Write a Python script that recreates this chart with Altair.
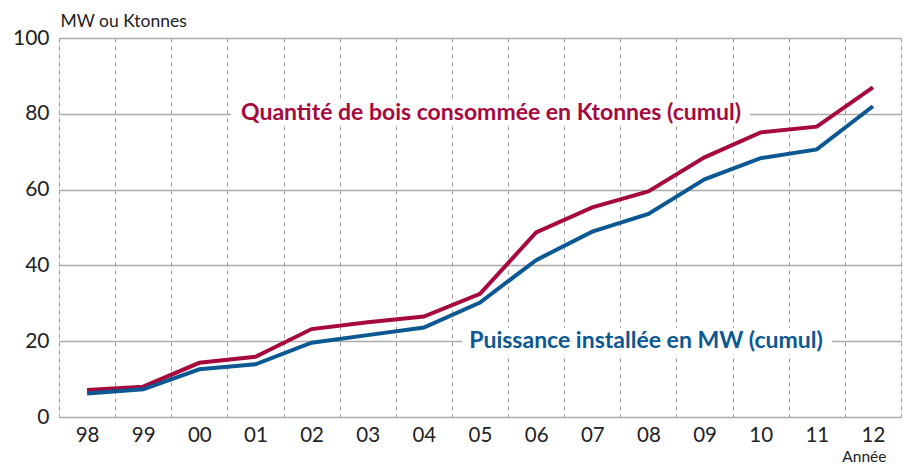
import altair as alt
import pandas as pd

years = ["98", "99", "00", "01", "02", "03", "04", "05", "06", "07", "08", "09", "10", "11", "12"]
wood = [7.1, 8.0, 14.3, 15.9, 23.2, 25.0, 26.5, 32.5, 48.7, 55.3, 59.5, 68.5, 75.1, 76.6, 87.0]
power = [6.2, 7.3, 12.6, 13.9, 19.6, 21.6, 23.6, 30.2, 41.4, 48.9, 53.6, 62.7, 68.3, 70.6, 82.0]
series_names = ["Quantité de bois consommée en Ktonnes (cumul)", "Puissance installée en MW (cumul)"]
series_colors = ["#A6093D", "#0B5892"]

FONT = "Lato"
W, H = 842, 379

df = pd.DataFrame({
    "year": years * 2,
    "value": wood + power,
    "series": [series_names[0]] * len(years) + [series_names[1]] * len(years),
})

x_enc = alt.X(
    "year:O",
    sort=years,
    scale=alt.Scale(type="band", paddingInner=0, paddingOuter=0),
    axis=alt.Axis(
        title="Année", titleFont=FONT, titleFontSize=15.5, titleFontWeight="normal", titleColor="#222",
        titleAnchor="end", titleAlign="right", titleX=W - 15, titleY=39, titleBaseline="middle",
        labelAngle=0, labelFont=FONT, labelFontSize=20.5, labelColor="#222", labelPadding=8,
        ticks=False, domain=False, grid=True, tickBand="extent",
        gridDash=[4, 4], gridColor="#9a9a9a", gridWidth=1,
    ),
)
y_enc = alt.Y(
    "value:Q",
    scale=alt.Scale(domain=[0, 100], nice=False),
    axis=alt.Axis(
        values=[0, 20, 40, 60, 80, 100],
        title="MW ou Ktonnes", titleFont=FONT, titleFontSize=17.5, titleFontWeight="normal", titleColor="#222",
        titleAngle=0, titleAlign="left", titleBaseline="middle", titleX=1, titleY=-17,
        labelFont=FONT, labelFontSize=21, labelColor="#222", labelPadding=10,
        ticks=False, domain=False, grid=True, gridColor="#aaaaaa", gridWidth=1.5,
    ),
)

lines = alt.Chart(df).mark_line(strokeWidth=4, strokeCap="butt", strokeJoin="miter").encode(
    x=x_enc,
    y=y_enc,
    color=alt.Color("series:N", scale=alt.Scale(domain=series_names, range=series_colors), legend=None),
)

lab = pd.DataFrame({
    "txt": series_names,
    "color": series_colors,
    "x": [432, 587],
    "y": [75, 303],
    "x1": [172, 403],
    "x2": [691, 773],
})

boxes = alt.Chart(lab).transform_calculate(y1="datum.y - 13", y2="datum.y + 13").mark_rect(color="white").encode(
    x=alt.X("x1:Q", scale=None),
    x2="x2:Q",
    y=alt.Y("y1:Q", scale=None),
    y2="y2:Q",
)

texts = alt.Chart(lab).mark_text(font=FONT, fontSize=23, fontWeight="bold", baseline="middle", align="center").encode(
    x=alt.X("x:Q", scale=None),
    y=alt.Y("y:Q", scale=None),
    text="txt:N",
    color=alt.Color("color:N", scale=None),
)

base = alt.Chart(df).mark_line(opacity=0).encode(x=x_enc, y=y_enc)

chart = alt.layer(base, boxes, texts, lines).properties(
    width=W, height=H,
    autosize=alt.AutoSizeParams(type="none"),
    padding={"left": 51, "top": 30, "right": 8, "bottom": 48},
).configure_view(stroke="#aaaaaa", strokeWidth=1.5).configure(background="white")

chart.save("out.html", embed_options={"renderer": "svg", "actions": False})
